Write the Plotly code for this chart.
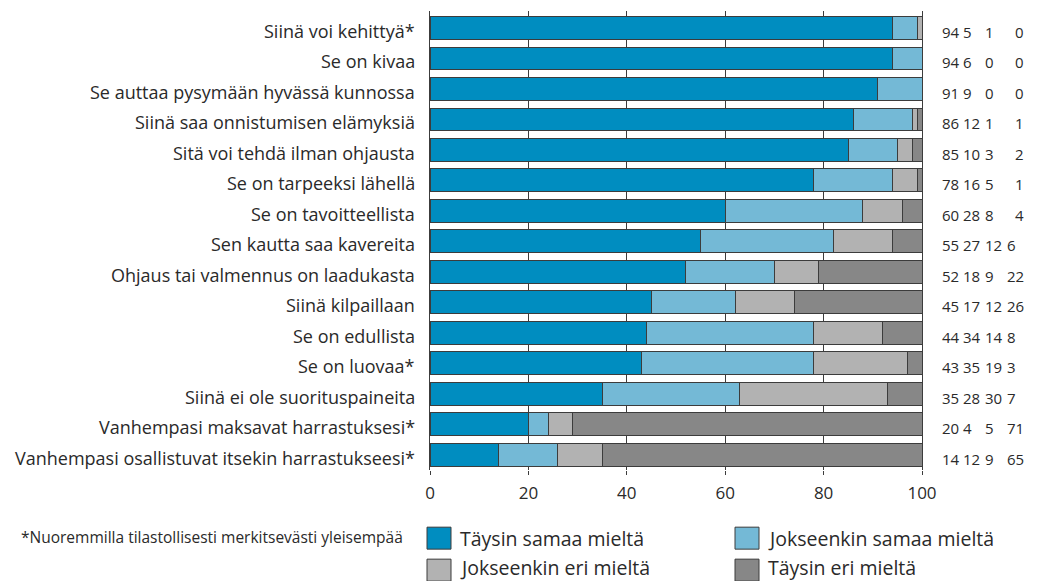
import plotly.graph_objects as go

categories = [
    "Siinä voi kehittyä*",
    "Se on kivaa",
    "Se auttaa pysymään hyvässä kunnossa",
    "Siinä saa onnistumisen elämyksiä",
    "Sitä voi tehdä ilman ohjausta",
    "Se on tarpeeksi lähellä",
    "Se on tavoitteellista",
    "Sen kautta saa kavereita",
    "Ohjaus tai valmennus on laadukasta",
    "Siinä kilpaillaan",
    "Se on edullista",
    "Se on luovaa*",
    "Siinä ei ole suorituspaineita",
    "Vanhempasi maksavat harrastuksesi*",
    "Vanhempasi osallistuvat itsekin harrastukseesi*",
]

taysin_samaa = [94, 94, 91, 86, 85, 78, 60, 55, 52, 45, 44, 43, 35, 20, 14]
jokseenkin_samaa = [5, 6, 9, 12, 10, 16, 28, 27, 18, 17, 34, 35, 28, 4, 12]
jokseenkin_eri = [1, 0, 0, 1, 3, 5, 8, 12, 9, 12, 14, 19, 30, 5, 9]
taysin_eri = [0, 0, 0, 1, 2, 1, 4, 6, 22, 26, 8, 3, 7, 71, 65]

series_names = ["Täysin samaa mieltä", "Jokseenkin samaa mieltä",
                "Jokseenkin eri mieltä", "Täysin eri mieltä"]
series_values = [taysin_samaa, jokseenkin_samaa, jokseenkin_eri, taysin_eri]
colors = ["#008dc0", "#74b9d6", "#b2b2b2", "#878787"]

x_ticks = [0, 20, 40, 60, 80, 100]
footnote = "*Nuoremmilla tilastollisesti merkitsevästi yleisempää"

FONT = "Open Sans"
TXT = "#2a2a2a"
LINE = "#3c3c3c"

W, H = 1038, 581
PL, PR, PT, PB = 430, 922, 10.5, 469.8


def px2x(px):
    return (px - PL) / (PR - PL)


def px2y(py):
    return (PB - py) / (PB - PT)


fig = go.Figure()
for name, vals, color in zip(series_names, series_values, colors):
    fig.add_trace(go.Bar(
        y=categories, x=vals, name=name, orientation="h",
        marker=dict(color=color, line=dict(color=LINE, width=1)),
        showlegend=False, hoverinfo="x+name",
    ))

annotations = []
# category labels (as annotations for finer vertical placement)
for cat in categories:
    annotations.append(dict(
        text=cat, xref="paper", yref="y", x=px2x(417), y=cat,
        xanchor="right", yanchor="middle", showarrow=False, yshift=-3,
        font=dict(family=FONT, size=18, color=TXT),
    ))

# value columns on the right
col_px = [941, 962, 984, 1006]
for i, cat in enumerate(categories):
    for j, vals in enumerate(series_values):
        cx = col_px[j]
        if j == 3 and i < 7:
            cx = 1014
        annotations.append(dict(
            text=str(vals[i]), xref="paper", yref="y", x=px2x(cx - 1), y=cat,
            xanchor="left", yanchor="middle", showarrow=False, yshift=-4,
            font=dict(family=FONT, size=15, color=TXT),
        ))

# footnote
annotations.append(dict(
    text=footnote, xref="paper", yref="paper", x=px2x(19), y=px2y(537),
    xanchor="left", yanchor="middle", showarrow=False,
    font=dict(family=FONT, size=15.5, color=TXT),
))

# manual legend
shapes = []
leg_pos = [(427, 538), (735, 538), (427, 567), (735, 567)]
sq_y = [(527, 549), (527, 549), (559, 581), (559, 581)]
for (lx, ly), (sy0, sy1), name, color in zip(leg_pos, sq_y, series_names, colors):
    shapes.append(dict(
        type="rect", xref="paper", yref="paper",
        x0=px2x(lx), x1=px2x(lx + 24), y0=px2y(sy1), y1=px2y(sy0),
        fillcolor=color, line=dict(color=LINE, width=1),
    ))
    annotations.append(dict(
        text=name, xref="paper", yref="paper", x=px2x(lx + 31), y=px2y(ly),
        xanchor="left", yanchor="middle", showarrow=False,
        font=dict(family=FONT, size=19.5, color=TXT),
    ))

fig.update_layout(
    width=W, height=H,
    barmode="stack", bargap=0.25,
    margin=dict(l=PL, r=W - PR, t=PT, b=H - PB, pad=0, autoexpand=False),
    paper_bgcolor="white", plot_bgcolor="white",
    font=dict(family=FONT, size=16, color=TXT),
    xaxis=dict(
        range=[0, 100], tickvals=x_ticks, ticktext=[str(v) for v in x_ticks],
        showgrid=True, gridcolor=LINE, gridwidth=1, zeroline=False,
        ticks="outside", ticklen=4, tickcolor=LINE, tickwidth=1,
        showline=False, tickfont=dict(family=FONT, size=17, color=TXT),
        ticklabelstandoff=4, fixedrange=True, automargin=False,
    ),
    yaxis=dict(
        autorange="reversed", showline=True, mirror=True, linecolor=LINE,
        linewidth=1, ticks="", showgrid=False, zeroline=False,
        showticklabels=False, fixedrange=True, automargin=False,
    ),
    annotations=annotations, shapes=shapes,
)

fig.write_html(
    "out.html",
    config={"displayModeBar": False},
    post_script="document.body.style.margin='0';document.body.style.padding='0';",
)
